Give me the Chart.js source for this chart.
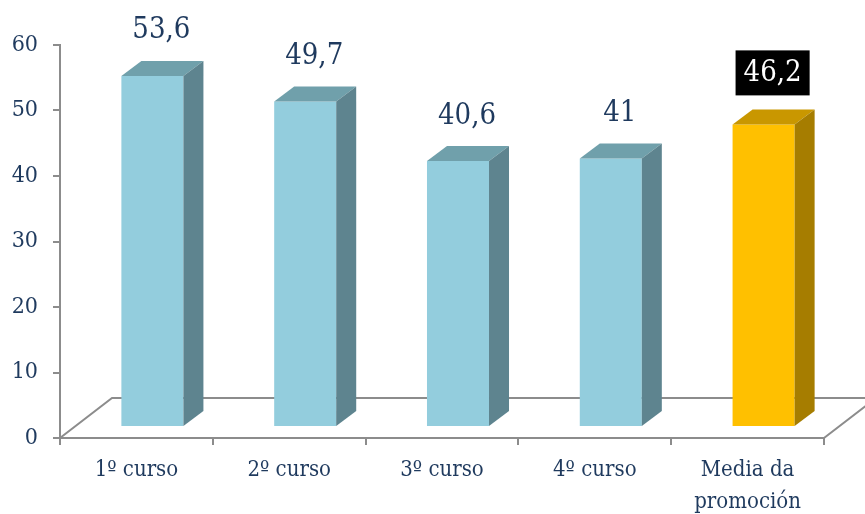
<!DOCTYPE html>
<html>
<head>
<meta charset="UTF-8">
<title>Cursos</title>
<script src="https://cdn.jsdelivr.net/npm/chart.js@4.4.1/dist/chart.umd.min.js"></script>
<style>
  html, body { margin: 0; padding: 0; background: #fff; }
  #wrap { width: 865px; height: 514px; position: relative; }
</style>
</head>
<body>
<div id="wrap"><canvas id="chart"></canvas></div>
<script>
  // data
  var categories = ['1º curso', '2º curso', '3º curso', '4º curso', ['Media da', 'promoción']];
  var values = [53.6, 49.7, 40.6, 41, 46.2];
  var valueLabels = ['53,6', '49,7', '40,6', '41', '46,2'];
  var yTicks = [0, 10, 20, 30, 40, 50, 60];

  var frontColors = ['#93cddd', '#93cddd', '#93cddd', '#93cddd', '#ffc000'];
  var sideColors  = ['#5e848f', '#5e848f', '#5e848f', '#5e848f', '#a67d00'];
  var topColors   = ['#70a0ab', '#70a0ab', '#70a0ab', '#70a0ab', '#c99700'];

  var textColor = '#1f3a5e';
  var axisColor = '#8c8c8c';
  var font = "'DejaVu Serif Condensed', 'DejaVu Serif', serif";

  // bar sits part way into the floor, faces have a small depth
  var barShift = { x: 16, y: -11 };
  var barDepth = { x: 20, y: -15 };
  var floorDepth = { x: 52, y: -40 };

  var bars3d = {
    id: 'bars3d',
    beforeDatasetsDraw: function (chart) {
      var ctx = chart.ctx, a = chart.chartArea;
      ctx.save();
      ctx.strokeStyle = axisColor;
      ctx.lineWidth = 2;
      ctx.beginPath();
      ctx.moveTo(a.left, a.bottom);
      ctx.lineTo(a.left + floorDepth.x, a.bottom + floorDepth.y);
      ctx.lineTo(chart.width + 20, a.bottom + floorDepth.y);
      ctx.moveTo(a.right, a.bottom);
      ctx.lineTo(a.right + floorDepth.x, a.bottom + floorDepth.y);
      ctx.stroke();
      ctx.restore();

      ctx.save();
      ctx.translate(barShift.x, barShift.y);
    },
    afterDatasetsDraw: function (chart) {
      var ctx = chart.ctx;
      var meta = chart.getDatasetMeta(0);
      meta.data.forEach(function (el, i) {
        var p = el.getProps(['x', 'y', 'base', 'width'], true);
        var l = p.x - p.width / 2, r = p.x + p.width / 2;
        // top face
        ctx.fillStyle = topColors[i];
        ctx.beginPath();
        ctx.moveTo(l, p.y);
        ctx.lineTo(r, p.y);
        ctx.lineTo(r + barDepth.x, p.y + barDepth.y);
        ctx.lineTo(l + barDepth.x, p.y + barDepth.y);
        ctx.closePath();
        ctx.fill();
        // side face
        ctx.fillStyle = sideColors[i];
        ctx.beginPath();
        ctx.moveTo(r, p.y);
        ctx.lineTo(r + barDepth.x, p.y + barDepth.y);
        ctx.lineTo(r + barDepth.x, p.base + barDepth.y);
        ctx.lineTo(r, p.base);
        ctx.closePath();
        ctx.fill();
      });
      ctx.restore();
    },
    afterDraw: function (chart) {
      var ctx = chart.ctx;
      var meta = chart.getDatasetMeta(0);
      ctx.save();
      ctx.font = '29px ' + font;
      ctx.textAlign = 'center';
      ctx.textBaseline = 'middle';
      meta.data.forEach(function (el, i) {
        var x = el.x + barShift.x + 9;
        var y = el.y + barShift.y - 46;
        var txt = valueLabels[i];
        if (i === values.length - 1) {
          var w = ctx.measureText(txt).width + 16;
          y -= 6;
          ctx.fillStyle = '#000';
          ctx.fillRect(x - w / 2, y - 22, w, 45);
          ctx.fillStyle = '#fff';
        } else {
          ctx.fillStyle = textColor;
        }
        ctx.fillText(txt, x, y + 1);
      });
      ctx.restore();
    }
  };

  new Chart(document.getElementById('chart'), {
    type: 'bar',
    data: {
      labels: categories,
      datasets: [{
        data: values,
        backgroundColor: frontColors,
        borderWidth: 0,
        barPercentage: 0.406,
        categoryPercentage: 1
      }]
    },
    options: {
      responsive: true,
      maintainAspectRatio: false,
      animation: false,
      events: [],
      layout: { padding: { left: 0, right: 41, top: 45, bottom: 0 } },
      plugins: {
        legend: { display: false },
        tooltip: { enabled: false }
      },
      scales: {
        x: {
          grid: {
            offset: true,
            drawOnChartArea: false,
            tickLength: 7,
            color: axisColor,
            lineWidth: 2
          },
          border: { color: axisColor, width: 2 },
          ticks: {
            color: textColor,
            font: { family: font, size: 22, lineHeight: 1.45 },
            padding: 9,
            maxRotation: 0,
            autoSkip: false
          },
          afterFit: function (s) { s.height = 76; }
        },
        y: {
          min: 0,
          max: 60,
          afterBuildTicks: function (s) {
            s.ticks = yTicks.map(function (v) { return { value: v }; });
          },
          grid: {
            drawOnChartArea: false,
            tickLength: 7,
            color: axisColor,
            lineWidth: 2
          },
          border: { color: axisColor, width: 2 },
          ticks: {
            color: textColor,
            font: { family: font, size: 23 },
            padding: 15
          },
          afterFit: function (s) { s.width = 60; }
        }
      }
    },
    plugins: [bars3d]
  });
</script>
</body>
</html>
